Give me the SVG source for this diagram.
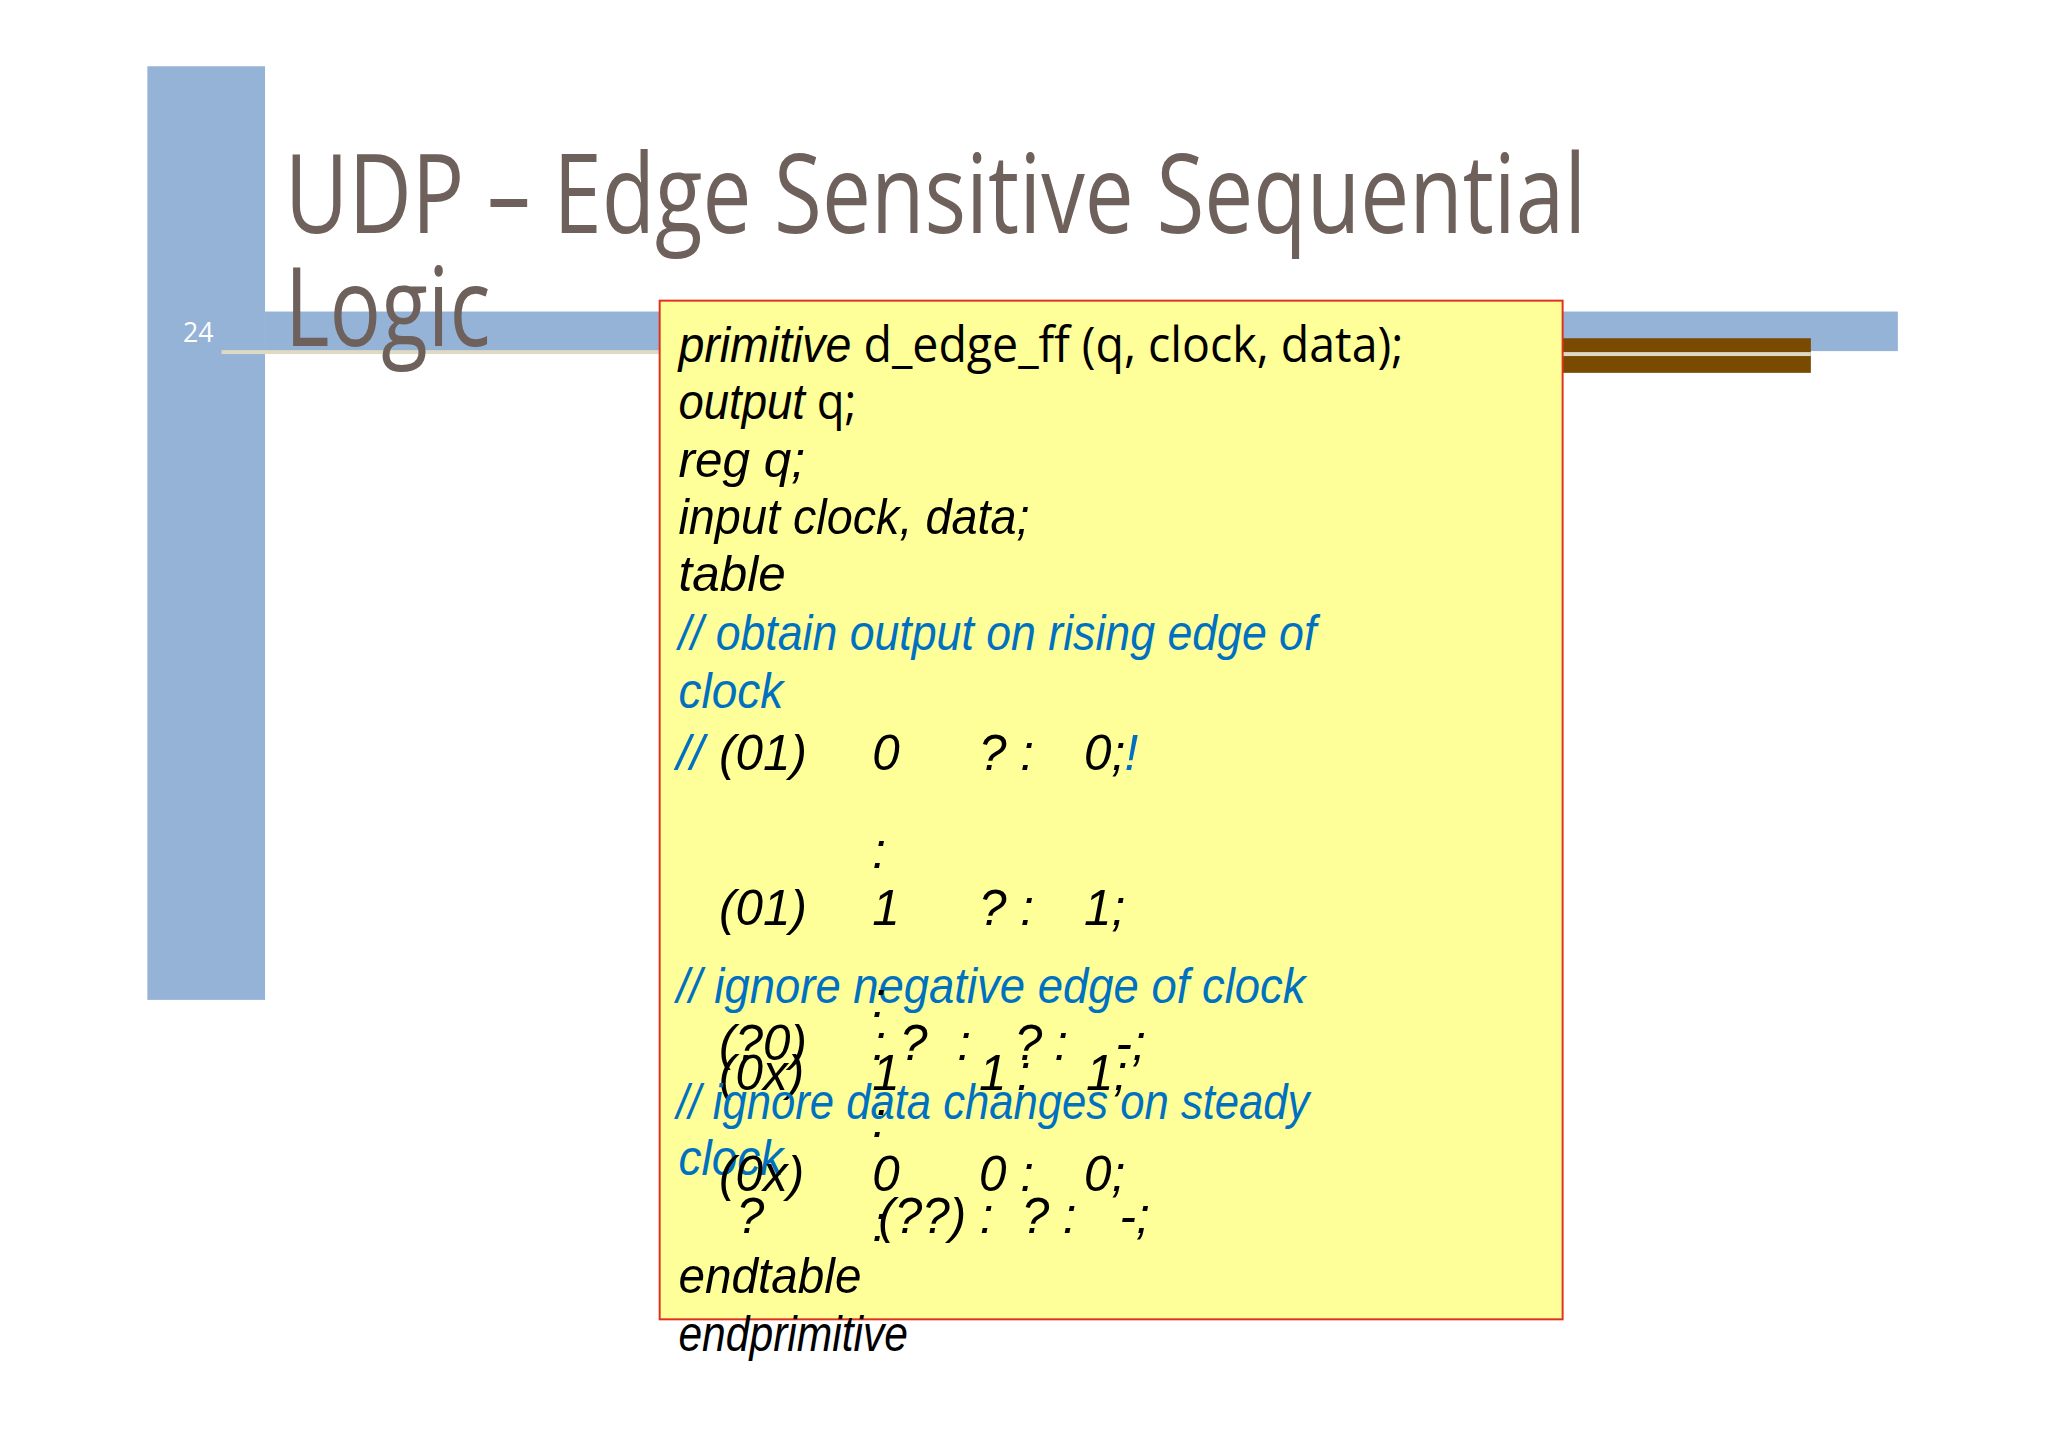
<svg xmlns="http://www.w3.org/2000/svg" width="2048" height="1447" viewBox="0 0 2048 1447">
<style>
.c{font-family:"Liberation Sans",Arial,sans-serif;font-style:italic;font-size:50px;fill:#000}
.b{fill:#0070c0}
.n{font-family:"Open Sans","Noto Sans",sans-serif;font-style:normal}
.t{font-family:"Open Sans","Noto Sans",sans-serif;font-size:112px;fill:#6e605a}
</style>
<rect width="2048" height="1447" fill="#fff"/>
<g transform="scale(0.989)">
<g id="background">
<rect x="149" y="67" width="119" height="944" fill="#95b3d7"/>
<rect x="268" y="315" width="1651" height="40" fill="#95b3d7"/>
<rect x="224" y="354" width="443" height="4" fill="#ddd9c3"/>
<rect x="1580" y="342" width="251" height="35" fill="#7a4a00"/>
<rect x="1580" y="356" width="251" height="4" fill="#ddd9c3"/>
<text x="185" y="346" font-family="Open Sans, sans-serif" font-size="27" fill="#fff">24</text>
</g>
<g id="title">
<text class="t" x="288" y="236" textLength="1316" lengthAdjust="spacingAndGlyphs">UDP – Edge Sensitive Sequential</text>
<text class="t" x="288" y="350" textLength="208" lengthAdjust="spacingAndGlyphs">Logic</text>
</g>
<g id="codebox">
<rect x="667" y="304" width="913" height="1030" fill="#ffff99" stroke="#e0301e" stroke-width="2"/>
<text class="c" x="686" y="366" textLength="733" lengthAdjust="spacingAndGlyphs">primitive<tspan class="n"> d_edge_ff (q, clock, data);</tspan></text>
<text class="c" x="686" y="424" textLength="180" lengthAdjust="spacingAndGlyphs">output<tspan class="n"> q;</tspan></text>
<text class="c" x="686" y="482">reg q;</text>
<text class="c" x="686" y="540" textLength="355" lengthAdjust="spacingAndGlyphs">input clock, data;</text>
<text class="c" x="686" y="598">table</text>
<text class="c b" x="686" y="657" textLength="645" lengthAdjust="spacingAndGlyphs">// obtain output on rising edge of</text>
<text class="c b" x="686" y="716" textLength="106" lengthAdjust="spacingAndGlyphs">clock</text>
<text class="c b" x="684" y="779">//</text>
<text class="c" x="727" y="779">(01)</text><text class="c" x="882" y="779">0</text><text class="c" x="990" y="779">? :</text><text class="c" x="1096" y="779">0;</text><text class="c b" x="1137" y="779" font-size="36">!</text>
<text class="c" x="882" y="878">:</text>
<text class="c" x="727" y="935">(01)</text><text class="c" x="882" y="935">1</text><text class="c" x="990" y="935">? :</text><text class="c" x="1096" y="935">1;</text>
<text class="c b" x="684" y="1014" textLength="636" lengthAdjust="spacingAndGlyphs">// ignore negative edge of clock</text>
<text class="c" x="882" y="1028">:</text>
<text class="c" x="727" y="1072">(?0)</text><text class="c" x="882" y="1072">:</text><text class="c" x="910" y="1072">?</text><text class="c" x="968" y="1072">:</text><text class="c" x="1026" y="1072">?</text><text class="c" x="1066" y="1072">:</text><text class="c" x="1128" y="1072">-;</text>
<text class="c" x="727" y="1102">(0x)</text><text class="c" x="882" y="1102">1</text><text class="c" x="990" y="1102">1</text><text class="c" x="1028" y="1102">:</text><text class="c" x="1098" y="1102">1;</text>
<text class="c b" x="684" y="1131" textLength="640" lengthAdjust="spacingAndGlyphs">// ignore data changes on steady</text>
<text class="c" x="882" y="1150">:</text>
<text class="c b" x="686" y="1188" textLength="106" lengthAdjust="spacingAndGlyphs">clock</text>
<text class="c" x="727" y="1204">(0x)</text><text class="c" x="882" y="1204">0</text><text class="c" x="990" y="1204">0 :</text><text class="c" x="1096" y="1204">0;</text>
<text class="c" x="745" y="1247">?</text><text class="c" x="882" y="1255">:</text><text class="c" x="888" y="1247">(??) :</text><text class="c" x="1033" y="1247">? :</text><text class="c" x="1132" y="1247">-;</text>
<text class="c" x="686" y="1307" textLength="185" lengthAdjust="spacingAndGlyphs">endtable</text>
<text class="c" x="686" y="1366" textLength="232" lengthAdjust="spacingAndGlyphs">endprimitive</text>
</g>
</g>
</svg>
